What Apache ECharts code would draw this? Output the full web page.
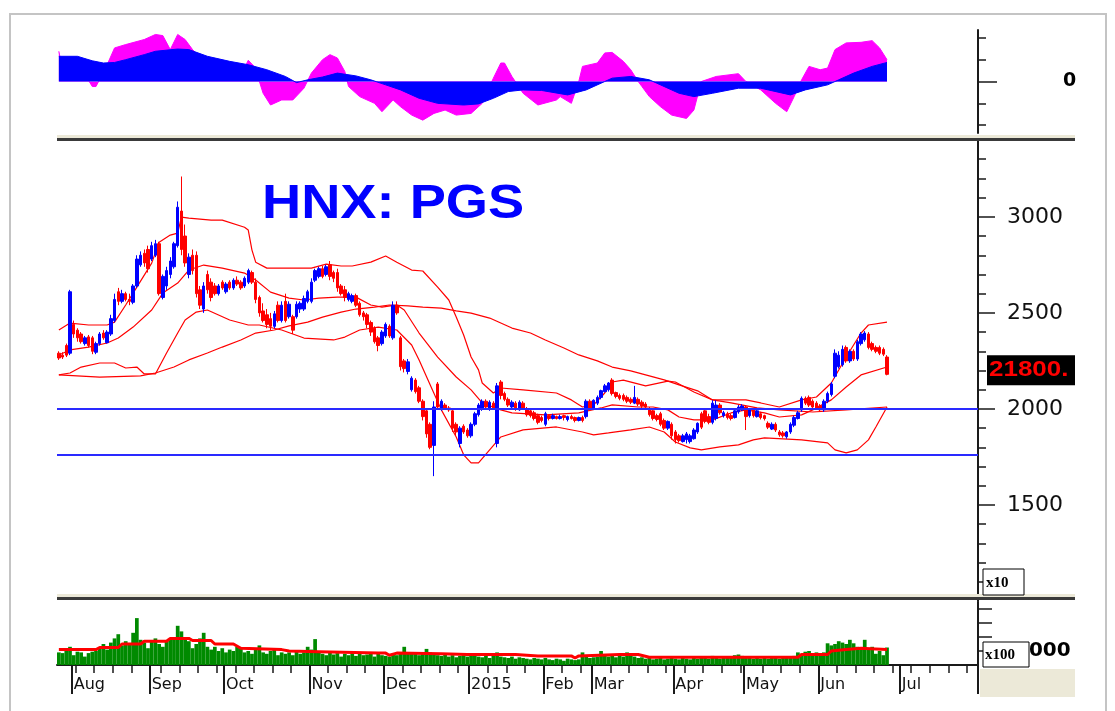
<!DOCTYPE html>
<html>
<head>
<meta charset="utf-8">
<title>HNX: PGS</title>
<script src="https://cdn.jsdelivr.net/npm/echarts@6/dist/echarts.min.js"></script>
<style>
html, body { margin: 0; padding: 0; background: #fff; }
#chart { width: 1115px; height: 711px; }
</style>
</head>
<body>
<div id="chart"></div>
<script>
// trading calendar
var firstDay = [2014, 6, 28];
var dayCount = 248;
var holidays = ['2014-09-01', '2014-09-02', '2015-01-01', '2015-01-02',
    '2015-02-16', '2015-02-17', '2015-02-18', '2015-02-19', '2015-02-20', '2015-02-23', '2015-02-24',
    '2015-04-28', '2015-04-29', '2015-04-30', '2015-05-01'];
var monthNames = ['Jan', 'Feb', 'Mar', 'Apr', 'May', 'Jun', 'Jul', 'Aug', 'Sep', 'Oct', 'Nov', 'Dec'];

// open close low high, one row per session
var candleRows = `
2290 2265 2255 2300
2280 2270 2260 2295
2330 2280 2270 2340
2290 2610 2280 2620
2440 2390 2370 2460
2410 2370 2350 2420
2390 2350 2340 2400
2340 2370 2330 2380
2375 2330 2320 2385
2370 2300 2285 2380
2295 2340 2285 2350
2340 2390 2330 2400
2395 2370 2360 2410
2345 2400 2340 2410
2390 2470 2380 2490
2460 2570 2450 2600
2610 2560 2540 2630
2560 2600 2550 2620
2600 2570 2560 2610
2570 2560 2540 2600
2555 2640 2545 2650
2640 2780 2630 2800
2750 2800 2740 2820
2810 2760 2740 2830
2830 2730 2710 2850
2780 2850 2770 2870
2800 2860 2790 2880
2860 2600 2590 2870
2580 2690 2570 2700
2640 2720 2620 2740
2700 2770 2680 2790
2740 2860 2730 2870
2850 3050 2840 3080
3030 2830 2800 3210
2900 2760 2740 2960
2700 2790 2680 2810
2800 2720 2700 2830
2800 2600 2580 2820
2620 2540 2520 2640
2520 2640 2500 2660
2700 2620 2600 2720
2660 2580 2560 2680
2640 2600 2590 2655
2600 2640 2590 2650
2660 2630 2620 2670
2610 2650 2600 2660
2660 2630 2620 2670
2630 2670 2620 2680
2670 2650 2640 2690
2660 2630 2620 2670
2640 2680 2630 2690
2660 2720 2650 2730
2710 2660 2650 2720
2660 2570 2550 2680
2580 2500 2480 2590
2510 2460 2450 2550
2490 2440 2420 2520
2470 2430 2410 2500
2430 2495 2420 2510
2540 2460 2450 2560
2460 2540 2450 2560
2560 2460 2450 2600
2480 2545 2470 2560
2480 2410 2390 2490
2480 2545 2470 2560
2520 2550 2500 2560
2520 2575 2510 2590
2560 2610 2550 2620
2560 2660 2550 2680
2670 2720 2660 2730
2690 2730 2680 2740
2730 2690 2680 2745
2700 2740 2690 2750
2750 2690 2670 2770
2710 2680 2660 2720
2710 2630 2610 2730
2640 2600 2590 2650
2620 2580 2560 2640
2570 2600 2560 2610
2560 2590 2550 2600
2590 2540 2530 2600
2550 2490 2480 2560
2500 2480 2460 2510
2490 2440 2420 2500
2450 2400 2380 2460
2420 2350 2340 2430
2370 2330 2300 2380
2340 2400 2330 2410
2380 2440 2370 2450
2430 2380 2370 2440
2370 2540 2360 2560
2540 2500 2490 2560
2370 2220 2200 2380
2250 2210 2190 2260
2195 2245 2180 2260
2100 2160 2090 2170
2150 2090 2080 2160
2110 2040 2030 2120
2040 1960 1940 2050
1990 1870 1850 2000
1920 1800 1790 1930
1810 2010 1650 2040
2130 2010 2000 2140
2000 2040 1990 2050
2020 2005 1995 2030
2005 1995 1985 2015
1990 1900 1880 2000
1920 1880 1860 1930
1820 1900 1800 1910
1910 1880 1870 1920
1890 1860 1850 1900
1860 1920 1850 1930
1920 1975 1910 1985
1970 2020 1960 2030
2000 2040 1990 2050
2040 2010 2000 2050
2000 2035 1990 2045
2030 2005 1995 2040
1820 2120 1800 2135
2140 2070 2050 2150
2080 2050 2040 2090
2050 2020 2010 2060
2010 2035 2000 2045
2030 2000 1990 2040
1995 2035 1990 2045
2030 2005 1995 2040
2000 1970 1960 2010
1990 1965 1955 2000
1980 1950 1940 1990
1965 1930 1920 1975
1955 1940 1930 1965
1920 1975 1910 1985
1965 1950 1940 1970
1950 1965 1945 1975
1960 1950 1945 1965
1950 1960 1945 1970
1965 1955 1940 1970
1945 1960 1935 1965
1960 1950 1945 1970
1955 1940 1930 1960
1940 1955 1935 1960
1955 1940 1930 1965
1960 2040 1950 2050
2040 2000 1990 2050
2000 2045 1995 2050
2030 2060 2020 2070
2060 2095 2050 2100
2090 2120 2085 2130
2100 2135 2090 2140
2150 2080 2070 2160
2085 2065 2055 2090
2070 2055 2045 2080
2070 2050 2040 2080
2060 2040 2030 2070
2050 2035 2025 2060
2030 2060 2025 2120
2050 2025 2015 2060
2035 2015 2005 2045
2025 2010 2000 2035
2000 1970 1960 2010
1990 1950 1940 2000
1965 1945 1935 1975
1975 1920 1910 1985
1940 1900 1890 1950
1900 1935 1890 1940
1920 1860 1840 1930
1880 1840 1820 1890
1860 1835 1825 1870
1830 1860 1825 1870
1840 1870 1820 1880
1830 1860 1820 1870
1845 1890 1840 1900
1880 1925 1870 1930
1975 1905 1895 1985
1990 1935 1925 2000
1960 1930 1920 1975
1930 2030 1920 2045
1950 2020 1940 2045
2020 1980 1970 2030
1965 1980 1955 1990
1975 1955 1945 1985
1965 1950 1940 1975
1955 1990 1950 2000
1985 2010 1975 2020
1995 2015 1990 2025
2010 1960 1890 2020
1965 1995 1955 2005
1995 1965 1955 2005
1960 1990 1955 2000
1975 1955 1945 1985
1965 1950 1940 1970
1925 1905 1895 1935
1895 1920 1890 1930
1920 1890 1880 1930
1880 1865 1855 1890
1875 1860 1850 1885
1855 1880 1845 1885
1880 1920 1870 1930
1915 1955 1905 1965
1950 1980 1945 1990
1995 2055 1985 2065
2055 2030 2020 2065
2060 2020 2010 2070
2040 2010 2000 2050
2030 2005 1995 2040
2015 1995 1985 2025
1995 2040 1985 2050
2040 2080 2030 2090
2075 2130 2065 2140
2170 2290 2160 2310
2220 2280 2210 2300
2230 2310 2220 2330
2320 2250 2240 2330
2250 2300 2240 2310
2300 2260 2250 2310
2260 2350 2250 2360
2340 2390 2330 2400
2360 2395 2350 2405
2390 2320 2310 2400
2340 2310 2300 2350
2320 2300 2290 2330
2320 2290 2280 2330
2310 2285 2275 2320
2270 2180 2175 2280
`;

var volumes = [
    900, 850, 1000, 1300, 700, 950, 900, 600, 850, 950, 1000,
    1200, 1500, 1100, 1600, 1900, 2200, 1400, 1700, 1500, 2300,
    3350, 1800, 1600, 1200, 1700, 1900, 1500, 1300, 1700, 1800,
    2000, 2800, 2400, 2000, 1700, 1200, 1500, 1900, 2300, 1300,
    1100, 1300, 1000, 1200, 900, 1100, 1000, 1300, 1200, 900,
    1000, 800, 1100, 1400, 900, 800, 1000, 1100, 700, 900,
    800, 900, 700, 1000, 800, 900, 1300, 1100, 1850, 900,
    800, 700, 900, 750, 850, 600, 800, 700, 900, 650,
    800, 700, 750, 900, 600, 800, 700, 650, 600, 800,
    700, 900, 1300, 800, 850, 900, 700, 800, 1150, 900,
    800, 700, 650, 800, 600, 700, 550, 650, 700, 600,
    650, 700, 600, 550, 700, 500, 650, 900, 600, 550,
    500, 600, 450, 550, 500, 450, 400, 500, 450, 400,
    500, 400, 350, 450, 400, 300, 450, 400, 350, 400,
    900, 600, 500, 550, 600, 1000, 700, 600, 650, 550,
    700, 600, 900, 800, 600, 500, 550, 450, 500, 400,
    450, 500, 400, 450, 500, 450, 400, 500, 450, 400,
    500, 450, 550, 500, 450, 650, 500, 450, 550, 500,
    500, 700, 750, 650, 500, 550, 450, 500, 450, 500,
    450, 550, 500, 450, 500, 600, 550, 650, 900, 800,
    950, 1000, 850, 900, 850, 900, 1550, 1400, 1500, 1700,
    1600, 1500, 1800, 1550, 1300, 1200, 1800, 1100, 1300, 800,
    1000, 700, 1250
];

// [session, value]
var volumeAverage = [[0, 1100], [10, 1100], [11, 1250], [16, 1250], [17, 1500], [22, 1500], [23, 1700], [29, 1700],
    [30, 1900], [35, 1900], [36, 1750], [41, 1750], [42, 1500], [47, 1500], [49, 1200], [60, 1100], [62, 1000],
    [70, 950], [86, 850], [88, 850], [89, 700], [91, 850], [103, 800], [110, 750], [123, 750], [129, 650],
    [138, 650], [139, 500], [140, 650], [151, 750], [156, 750], [159, 550], [199, 550], [200, 750], [207, 750],
    [208, 1000], [212, 1100], [216, 1200], [220, 1150], [223, 1100]];

var bandUpper = [[0, 2411], [3, 2447], [8, 2437], [13, 2437], [15, 2452], [18, 2541], [21, 2634], [25, 2759],
    [27, 2868], [30, 2905], [32, 2915], [33, 2998], [35, 2993], [41, 2983], [44, 2983], [50, 2946], [51, 2931],
    [52, 2827], [53, 2764], [56, 2733], [62, 2733], [68, 2733], [72, 2754], [76, 2744], [79, 2744], [84, 2764],
    [88, 2796], [91, 2764], [95, 2723], [98, 2718], [102, 2634], [105, 2567], [107, 2478], [109, 2385],
    [111, 2270], [113, 2203], [114, 2135], [117, 2083], [119, 2109], [125, 2099], [134, 2083], [138, 2047],
    [141, 2010], [144, 2021], [147, 2083], [149, 2140], [152, 2150], [158, 2120], [164, 2145], [166, 2140],
    [171, 2088], [176, 2047], [181, 2047], [185, 2047], [189, 2031], [194, 2010], [200, 2047], [204, 2062],
    [208, 2135], [212, 2270], [216, 2395], [218, 2437], [223, 2452]];

var bandMiddle = [[0, 2281], [3, 2307], [8, 2322], [13, 2343], [16, 2369], [20, 2426], [25, 2515], [28, 2603],
    [32, 2655], [35, 2723], [39, 2749], [44, 2733], [50, 2707], [53, 2671], [57, 2608], [62, 2577], [66, 2567],
    [70, 2577], [75, 2582], [80, 2582], [84, 2541], [87, 2530], [91, 2541], [93, 2515], [97, 2395], [102, 2270],
    [107, 2166], [111, 2099], [114, 2031], [119, 1995], [122, 1979], [131, 1969], [140, 1979], [146, 2005],
    [149, 2021], [156, 2010], [160, 2010], [164, 1995], [167, 1958], [171, 1943], [176, 1943], [181, 1979],
    [185, 1995], [190, 1979], [194, 1958], [200, 1969], [203, 1995], [208, 2047], [212, 2114], [216, 2177],
    [223, 2218]];

var bandLower = [[0, 2177], [3, 2187], [6, 2218], [11, 2239], [15, 2239], [18, 2213], [21, 2218], [23, 2182],
    [26, 2182], [29, 2291], [32, 2395], [34, 2463], [37, 2504], [40, 2515], [43, 2489], [46, 2463], [51, 2437],
    [54, 2437], [60, 2411], [66, 2369], [74, 2359], [77, 2374], [81, 2411], [86, 2426], [91, 2411], [95, 2333],
    [97, 2255], [100, 2125], [103, 1995], [107, 1854], [109, 1761], [111, 1719], [113, 1719], [116, 1787],
    [119, 1854], [125, 1891], [134, 1906], [141, 1880], [144, 1865], [148, 1875], [154, 1891], [159, 1906],
    [163, 1880], [166, 1828], [170, 1797], [173, 1787], [178, 1802], [183, 1813], [187, 1839], [190, 1849],
    [200, 1839], [207, 1823], [209, 1787], [212, 1771], [215, 1787], [218, 1839], [220, 1906], [223, 2010]];

var longAverage = [[0, 2177], [11, 2166], [22, 2172], [26, 2187], [31, 2218], [35, 2255], [40, 2291],
    [44, 2322], [49, 2359], [53, 2395], [58, 2411], [62, 2432], [67, 2452], [71, 2478], [76, 2504], [80, 2520],
    [85, 2530], [89, 2541], [94, 2536], [98, 2530], [103, 2525], [107, 2510], [111, 2499], [116, 2473],
    [122, 2421], [127, 2395], [131, 2359], [136, 2317], [140, 2281], [145, 2250], [149, 2218], [154, 2198],
    [158, 2177], [163, 2151], [167, 2125], [172, 2094], [176, 2047], [181, 2031], [188, 2005], [194, 1995],
    [203, 1984], [212, 1995], [223, 2010]];

var macdLine = [[0, 2.25], [5, 2.25], [9, 1.85], [12, 1.65], [15, 1.7], [18, 1.95], [23, 2.4], [26, 2.7],
    [32, 2.9], [35, 2.85], [40, 2.25], [46, 1.8], [51, 1.5], [56, 1.05], [61, 0.45], [64, -0.1], [67, 0.15],
    [71, 0.4], [75, 0.75], [80, 0.5], [84, 0.15], [88, -0.3], [92, -0.75], [97, -1.5], [102, -1.95], [109, -2.1],
    [113, -2.0], [117, -1.5], [121, -0.9], [125, -0.75], [130, -0.8], [137, -1.2], [142, -0.75], [147, 0],
    [149, 0.3], [154, 0.45], [159, 0.15], [161, -0.15], [167, -1.05], [171, -1.35], [176, -1.05], [183, -0.6],
    [189, -0.6], [197, -1.2], [201, -0.75], [207, -0.3], [210, 0.15], [214, 0.75], [219, 1.35], [223, 1.7]];

var macdHist = [[0, 2.7], [1, 1.0], [5, 0.5], [8, 0.1], [9, -0.45], [10, -0.45], [11, 0.2], [13, 1.5],
    [15, 3.0], [18, 3.3], [23, 3.75], [26, 4.2], [28, 4.1], [30, 2.85], [32, 4.2], [34, 3.75], [36, 2.85],
    [40, 1.5], [46, 1.0], [50, 1.2], [51, 1.9], [53, 1.2], [54, 0], [55, -1.05], [57, -2.1], [60, -1.65],
    [63, -1.65], [66, -0.6], [68, 0.75], [71, 1.95], [73, 2.4], [75, 2.1], [77, 0.9], [78, -0.45], [81, -1.35],
    [85, -1.95], [87, -2.7], [90, -1.65], [92, -2.25], [95, -3.0], [98, -3.45], [101, -2.85], [104, -2.55],
    [107, -3.0], [111, -2.85], [114, -1.95], [117, 0.3], [119, 1.65], [120, 1.65], [122, 0.45], [125, -1.05],
    [129, -2.1], [134, -1.65], [135, -1.35], [138, -1.95], [140, 0], [141, 1.35], [145, 1.65], [147, 2.55],
    [149, 2.6], [152, 1.8], [154, 1.05], [156, 0], [157, -0.45], [159, -1.35], [162, -2.25], [165, -3.0],
    [169, -3.3], [171, -2.55], [173, 0], [177, 0.45], [183, 0.7], [185, 0], [189, -0.75], [193, -1.95],
    [196, -2.7], [198, -1.35], [200, 0.15], [202, 1.35], [205, 1.05], [207, 1.2], [209, 2.85], [212, 3.45],
    [216, 3.5], [219, 3.65], [221, 3.0], [223, 1.95]];

var supportLevels = [2000, 1760];

// axis ticks and labels
var priceMinorTicks = [1100, 1200, 1300, 1400, 1600, 1700, 1800, 1900, 2100, 2200, 2300, 2400,
    2600, 2700, 2800, 2900, 3100, 3200, 3300];
var priceLabels = [1500, 2000, 2500, 3000];
var macdMinorTicks = [-3.9, -1.95, 1.95, 3.9];
var macdLabels = [0];
var volumeTicks = [1000, 2000, 3000, 4000];
var volumeLabels = [1000];
var lastPriceText = '21800.';

// ---- build ----
function buildDates() {
    var out = [];
    var d = new Date(Date.UTC(firstDay[0], firstDay[1], firstDay[2]));
    while (out.length < dayCount) {
        var wd = d.getUTCDay();
        var key = d.toISOString().slice(0, 10);
        if (wd !== 0 && wd !== 6 && holidays.indexOf(key) < 0) out.push(key);
        d.setUTCDate(d.getUTCDate() + 1);
    }
    return out;
}
var dates = buildDates();
var weekdays = dates.map(function (s) { return new Date(s + 'T00:00:00Z').getUTCDay(); });

function isMonthStart(i) {
    return i > 0 && dates[i].slice(5, 7) !== dates[i - 1].slice(5, 7);
}
function isWeekStart(i) {
    return i > 0 && weekdays[i] <= weekdays[i - 1];
}
function monthLabel(value) {
    var m = value.slice(5, 7);
    return m === '01' ? value.slice(0, 4) : monthNames[+m - 1];
}

var candles = candleRows.trim().split('\n').map(function (r) {
    return r.trim().split(/\s+/).map(Number);
});
var lastClose = candles[candles.length - 1][1];

var axisColor = '#1a1a1a';
var labelFont = '"DejaVu Sans", Verdana, sans-serif';

var dom = document.getElementById('chart');
var myChart = echarts.init(dom, null, { renderer: 'canvas' });

function hiddenX(grid) {
    return { type: 'category', gridIndex: grid, data: dates, show: false };
}

var option = {
    animation: false,
    backgroundColor: '#ffffff',
    grid: [
        { left: 57, width: 921, top: 30, height: 103 },
        { left: 57, width: 921, top: 140, height: 461 },
        { left: 57, width: 921, top: 602, height: 63 }
    ],
    xAxis: [
        hiddenX(0),
        hiddenX(1),
        {
            type: 'category', gridIndex: 2, data: dates, position: 'bottom',
            axisLine: { show: true, lineStyle: { color: axisColor, width: 2 } },
            axisTick: {
                show: true, alignWithLabel: false,
                interval: function (i) { return isWeekStart(i); },
                length: 8, lineStyle: { color: axisColor, width: 1.5 }
            },
            axisLabel: {
                interval: function (i) { return isMonthStart(i); },
                formatter: monthLabel, align: 'left', margin: 12,
                fontSize: 16, fontFamily: labelFont, color: '#111'
            },
            splitLine: { show: false }
        },
        {
            type: 'category', gridIndex: 2, data: dates, position: 'bottom', offset: 0,
            axisLine: { show: false },
            axisTick: {
                show: true, alignWithLabel: false,
                interval: function (i) { return isMonthStart(i); },
                length: 29, lineStyle: { color: axisColor, width: 2 }
            },
            axisLabel: { show: false },
            splitLine: { show: false }
        }
    ],
    yAxis: [
        {
            type: 'value', gridIndex: 0, position: 'right', min: -4.6, max: 4.6,
            axisLine: { show: true, lineStyle: { color: axisColor, width: 2 } },
            axisTick: { show: true, customValues: macdMinorTicks, length: 8, lineStyle: { color: axisColor, width: 1.5 } },
            axisLabel: { show: false }, splitLine: { show: false }
        },
        {
            type: 'value', gridIndex: 0, position: 'right', min: -4.6, max: 4.6,
            axisLine: { show: false },
            axisTick: { show: true, customValues: macdLabels, length: 19, lineStyle: { color: axisColor, width: 1.5 } },
            axisLabel: {
                customValues: macdLabels, margin: 85, fontSize: 19, fontWeight: 'bold',
                fontFamily: labelFont, color: '#000', formatter: function (v) { return String(v); }
            },
            splitLine: { show: false }
        },
        {
            type: 'value', gridIndex: 1, position: 'right', min: 1000, max: 3400,
            axisLine: { show: true, lineStyle: { color: axisColor, width: 2 } },
            axisTick: { show: true, customValues: priceMinorTicks, length: 8, lineStyle: { color: axisColor, width: 1.5 } },
            axisLabel: { show: false }, splitLine: { show: false }
        },
        {
            type: 'value', gridIndex: 1, position: 'right', min: 1000, max: 3400,
            axisLine: { show: false },
            axisTick: { show: true, customValues: priceLabels, length: 17, lineStyle: { color: axisColor, width: 1.5 } },
            axisLabel: {
                customValues: priceLabels, margin: 29, fontSize: 22,
                fontFamily: labelFont, color: '#111', formatter: function (v) { return String(v); }
            },
            splitLine: { show: false }
        },
        {
            type: 'value', gridIndex: 2, position: 'right', min: 0, max: 4500,
            axisLine: { show: true, lineStyle: { color: axisColor, width: 2 } },
            axisTick: { show: true, customValues: volumeTicks, length: 14, lineStyle: { color: axisColor, width: 1.5 } },
            axisLabel: {
                customValues: volumeLabels, margin: 37, fontSize: 20, fontWeight: 'bold',
                fontFamily: labelFont, color: '#000', formatter: function (v) { return String(v); }
            },
            splitLine: { show: false }
        }
    ],
    series: [
        {
            name: 'histogram', type: 'line', xAxisIndex: 0, yAxisIndex: 0, data: macdHist,
            symbol: 'none', lineStyle: { color: '#ff00ff', width: 1 },
            areaStyle: { color: '#ff00ff', opacity: 1 }, z: 2
        },
        {
            name: 'macd', type: 'line', xAxisIndex: 0, yAxisIndex: 0, data: macdLine,
            symbol: 'none', lineStyle: { color: '#0000ff', width: 1 },
            areaStyle: { color: '#0000ff', opacity: 1 }, z: 3
        },
        {
            name: 'long average', type: 'line', xAxisIndex: 1, yAxisIndex: 2, data: longAverage,
            symbol: 'none', lineStyle: { color: '#ff0000', width: 1.2 }, z: 2
        },
        {
            name: 'upper', type: 'line', xAxisIndex: 1, yAxisIndex: 2, data: bandUpper,
            symbol: 'none', lineStyle: { color: '#ff0000', width: 1.2 }, z: 2
        },
        {
            name: 'middle', type: 'line', xAxisIndex: 1, yAxisIndex: 2, data: bandMiddle,
            symbol: 'none', lineStyle: { color: '#ff0000', width: 1.2 }, z: 2
        },
        {
            name: 'lower', type: 'line', xAxisIndex: 1, yAxisIndex: 2, data: bandLower,
            symbol: 'none', lineStyle: { color: '#ff0000', width: 1.2 }, z: 2
        },
        {
            name: 'PGS', type: 'candlestick', xAxisIndex: 1, yAxisIndex: 2, data: candles,
            barWidth: 3,
            itemStyle: { color: '#0000ff', color0: '#ff0000', borderColor: '#0000ff', borderColor0: '#ff0000', borderWidth: 1 },
            markLine: {
                silent: true, symbol: 'none', label: { show: false },
                lineStyle: { color: '#2a2aff', width: 2, type: 'solid' },
                data: supportLevels.map(function (v) { return { yAxis: v }; })
            },
            z: 3
        },
        {
            name: 'volume', type: 'bar', xAxisIndex: 2, yAxisIndex: 4, data: volumes,
            barCategoryGap: '0%', itemStyle: { color: '#008a00' }, z: 2
        },
        {
            name: 'volume average', type: 'line', xAxisIndex: 2, yAxisIndex: 4, data: volumeAverage,
            symbol: 'none', lineStyle: { color: '#ff0000', width: 3 }, z: 3
        }
    ]
};

myChart.setOption(option);

// overlays: frame, panel separators, title and value boxes
var lastY = myChart.convertToPixel({ yAxisIndex: 2 }, lastClose);

myChart.setOption({
    graphic: [
        { type: 'polyline', z: 100, silent: true, shape: { points: [[10, 711], [10, 14], [1106, 14], [1106, 711]] },
          style: { fill: null, stroke: '#c4c4c4', lineWidth: 2 } },
        { type: 'rect', z: 100, silent: true, shape: { x: 57, y: 135, width: 1018, height: 3 }, style: { fill: '#ece9d8' } },
        { type: 'rect', z: 100, silent: true, shape: { x: 57, y: 138, width: 1018, height: 3 }, style: { fill: '#3a3a3a' } },
        { type: 'rect', z: 100, silent: true, shape: { x: 57, y: 594, width: 1018, height: 3 }, style: { fill: '#ece9d8' } },
        { type: 'rect', z: 100, silent: true, shape: { x: 57, y: 597, width: 1018, height: 3 }, style: { fill: '#3a3a3a' } },
        { type: 'rect', z: 100, silent: true, shape: { x: 980, y: 669, width: 95, height: 28 }, style: { fill: '#ece9d8' } },
        { type: 'text', z: 100, silent: true, x: 262, y: 205, scaleX: 1.13,
          style: { text: 'HNX: PGS', font: 'bold 48px "Liberation Sans", Arial, sans-serif', fill: '#0000ff', verticalAlign: 'middle' } },
        { type: 'rect', z: 100, silent: true, shape: { x: 987, y: lastY - 19, width: 88, height: 30 }, style: { fill: '#000000' } },
        { type: 'text', z: 101, silent: true, x: 989, y: lastY - 4, scaleX: 1.18,
          style: { text: lastPriceText, font: 'bold 22px "Liberation Sans", Arial, sans-serif', fill: '#ff0000', verticalAlign: 'middle' } },
        { type: 'rect', z: 100, silent: true, shape: { x: 983, y: 569, width: 41, height: 26 },
          style: { fill: '#ffffff', stroke: '#000000', lineWidth: 1 } },
        { type: 'text', z: 101, silent: true, x: 986, y: 583,
          style: { text: 'x10', font: 'bold 15px "Liberation Serif", "Times New Roman", serif', fill: '#000', verticalAlign: 'middle' } },
        { type: 'rect', z: 100, silent: true, shape: { x: 983, y: 642, width: 46, height: 25 },
          style: { fill: '#ffffff', stroke: '#000000', lineWidth: 1 } },
        { type: 'text', z: 101, silent: true, x: 985, y: 655,
          style: { text: 'x100', font: 'bold 15px "Liberation Serif", "Times New Roman", serif', fill: '#000', verticalAlign: 'middle' } }
    ]
});

window.addEventListener('resize', myChart.resize);
</script>
</body>
</html>
